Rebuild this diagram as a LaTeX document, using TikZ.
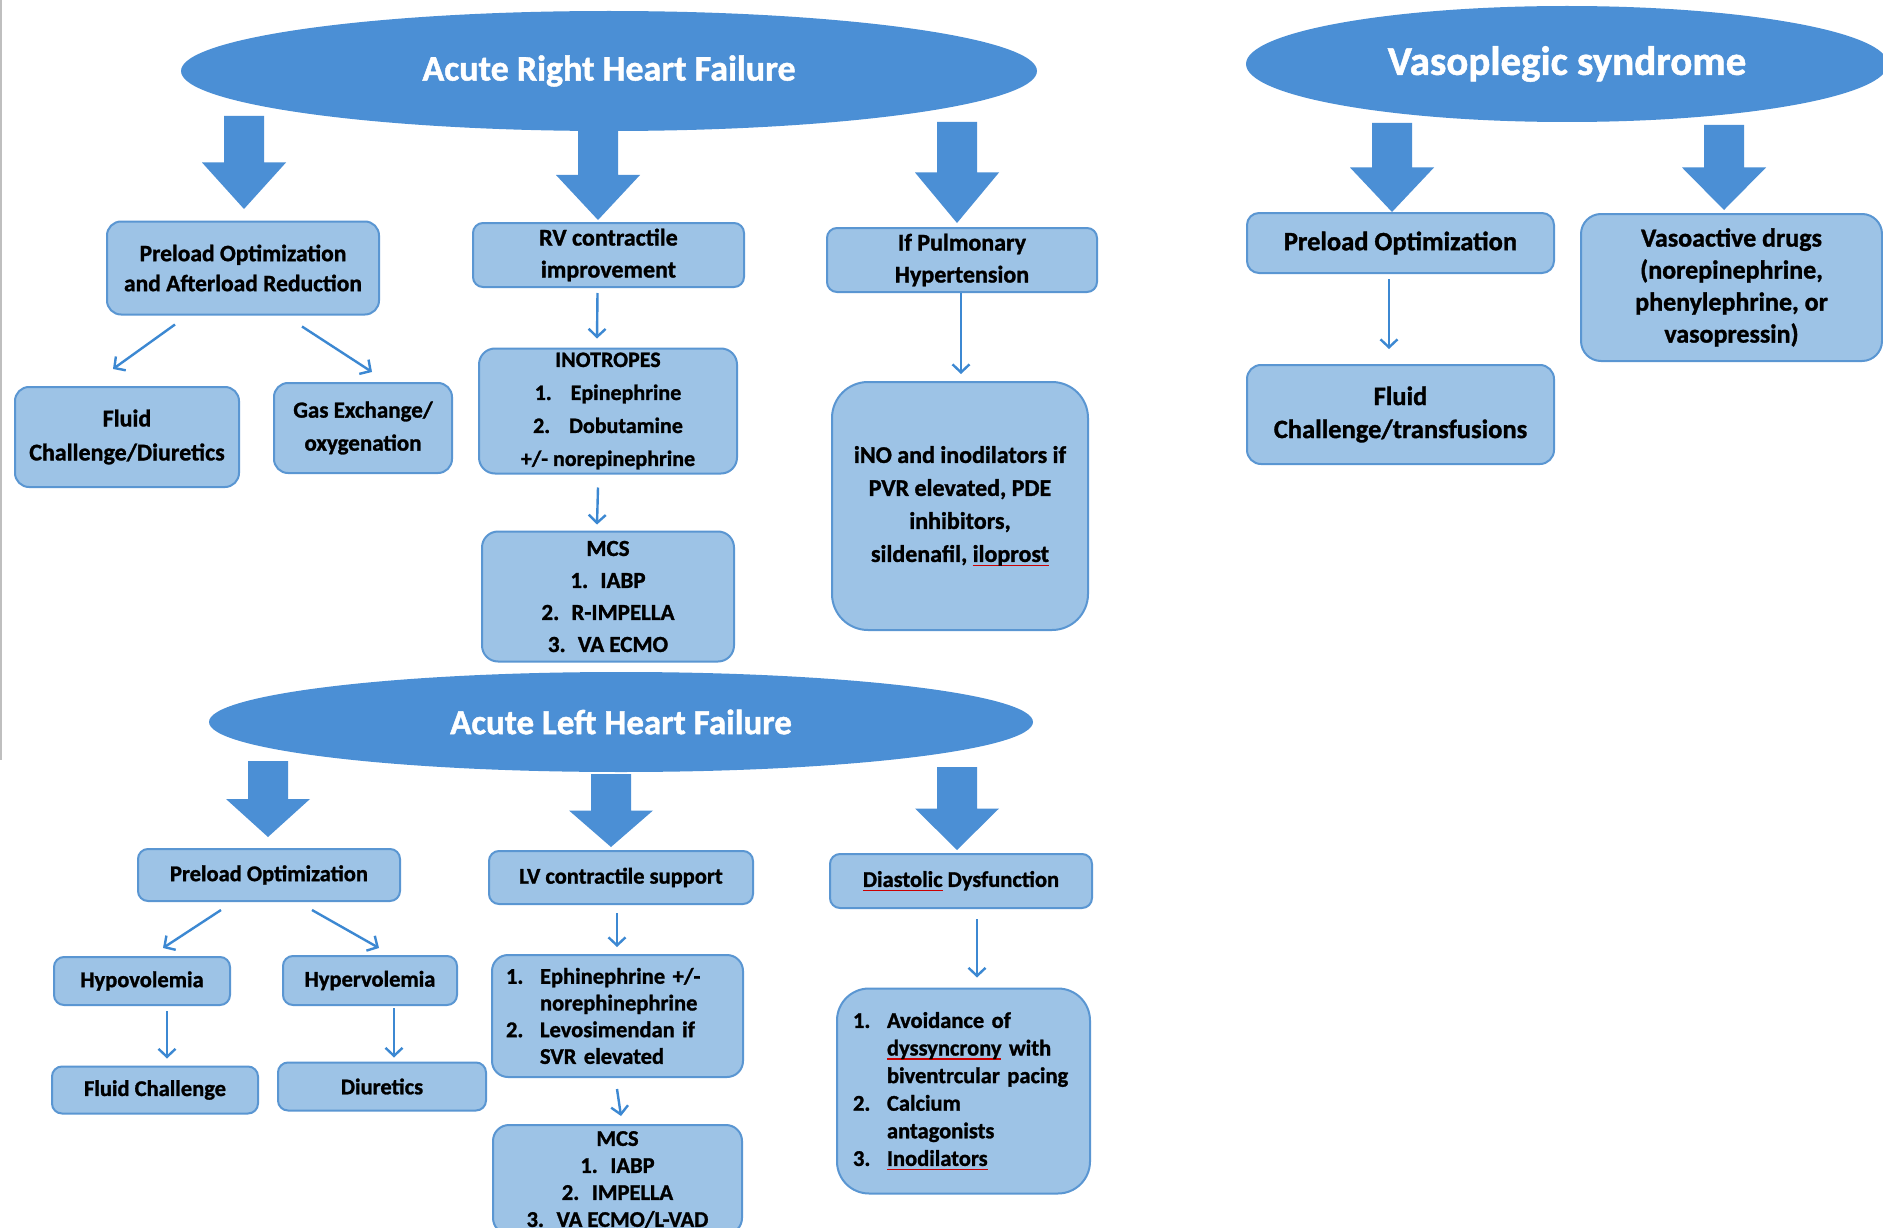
\documentclass[tikz,border=0pt]{standalone}
\usepackage{fontspec}
\setmainfont{Carlito}[BoldFeatures={FakeBold=1.2}]
\usepackage{tikz}
\usetikzlibrary{arrows.meta,shapes.geometric,positioning}
\definecolor{hfblue}{HTML}{4B8FD5}
\definecolor{boxfill}{HTML}{9DC3E6}
\definecolor{boxline}{HTML}{5A96D2}
\definecolor{arrblue}{HTML}{3C88D2}
\newcommand{\boxfs}[2]{\bfseries\fontsize{#1}{#2}\selectfont}
\newcommand{\lnum}[1]{\makebox[34pt][l]{#1}}
\newcommand{\lind}{\hspace*{34pt}}
\newsavebox{\spellbox}
\newcommand{\spellmark}[1]{\sbox{\spellbox}{#1}\rlap{\textcolor{red!80!black}{\rule[-4pt]{\wd\spellbox}{1.4pt}}}\usebox{\spellbox}}
% block arrow: centre x, top y, tip y (pixels, downwards)
\newcommand{\blockarrow}[3]{%
  \fill[hfblue] ({#1-20},{-#2}) -- ({#1+20},{-#2}) -- ({#1+20},{-(#2+#3)/2})
    -- ({#1+42},{-(#2+#3)/2}) -- (#1,{-#3}) -- ({#1-42},{-(#2+#3)/2})
    -- ({#1-20},{-(#2+#3)/2}) -- cycle;}
\tikzset{
  node_head/.style={ellipse,fill=hfblue,draw=none,inner sep=0pt,text=white,
    font=\boxfs{36}{40}},
  node_box/.style={draw=boxline,line width=2pt,fill=boxfill,rounded corners=10pt,
    inner sep=0pt,align=center,font=\boxfs{22.5}{27}},
  arr/.style={-{Straight Barb[length=8pt,width=17pt]},draw=arrblue,line width=2.4pt},
}
\begin{document}
\begin{tikzpicture}[x=1pt,y=1pt]
  \useasboundingbox (0,0) rectangle (1883,-1228);
  \fill[white] (0,0) rectangle (1883,-1228);
  \draw[black!25,line width=1.5pt] (1,0) -- (1,-760);

  % right heart
  \node[node_head,minimum width=856pt,minimum height=120pt] (rhf) at (609,-71) {Acute Right Heart Failure};
  \blockarrow{244}{116}{209}
  \blockarrow{598}{130}{220}
  \blockarrow{957}{122}{223}

  \node[node_box,rounded corners=14pt,minimum width=272pt,minimum height=93pt,font=\boxfs{23.5}{30}] (preR) at (243,-268) {Preload Optimization\\and Afterload Reduction};
  \node[node_box,minimum width=271pt,minimum height=64pt,font=\boxfs{24}{32}] (rvR) at (608.5,-255) {RV contractile\\improvement};
  \node[node_box,minimum width=270pt,minimum height=64pt,font=\boxfs{24}{32}] (phR) at (962,-260) {If Pulmonary\\Hypertension};
  \node[node_box,rounded corners=14pt,minimum width=224pt,minimum height=100pt,font=\boxfs{24}{34}] (fluidR) at (127,-437) {Fluid\\Challenge/Diuretics};
  \node[node_box,rounded corners=14pt,minimum width=178pt,minimum height=90pt,font=\boxfs{23}{33}] (gasR) at (363,-428) {Gas Exchange/\\oxygenation};
  \node[node_box,rounded corners=16pt,minimum width=258pt,minimum height=125pt,font=\boxfs{22}{33}] (inoR) at (608,-411) {INOTROPES\\\makebox[36pt][l]{1.}Epinephrine\\\makebox[36pt][l]{2.}Dobutamine\\+/- norepinephrine};
  \node[node_box,rounded corners=16pt,minimum width=252pt,minimum height=130pt,font=\boxfs{23}{32},below=56pt of inoR] (mcsR) {MCS\\\makebox[30pt][l]{1.}IABP\\\makebox[30pt][l]{2.}R-IMPELLA\\\makebox[30pt][l]{3.}VA ECMO};
  \node[node_box,rounded corners=36pt,minimum width=256pt,minimum height=248pt,font=\boxfs{24}{33}] (inoD) at (960,-506) {iNO and inodilators if\\PVR elevated, PDE\\inhibitors,\\sildenafil, \spellmark{iloprost}};

  \draw[arr] ([shift={(-68,-9)}]preR.south) -- ([shift={(-14,17)}]fluidR.north);
  \draw[arr] ([shift={(59,-11)}]preR.south) -- ([shift={(9,10)}]gasR.north);
  \draw[arr] ([shift={(-11,-5)}]rvR.south) -- ([shift={(-11,9)}]inoR.north);
  \draw[arr] ([shift={(-10,-13)}]inoR.south) -- ([shift={(-11,6)}]mcsR.north);
  \draw[arr] ([shift={(-1,0)}]phR.south) -- ([shift={(1,7)}]inoD.north);

  % vasoplegia
  \node[node_head,minimum width=642pt,minimum height=116pt,font=\boxfs{41}{44}] (vaso) at (1567,-64) {Vasoplegic syndrome};
  \blockarrow{1392}{123}{212}
  \blockarrow{1724}{125}{210}

  \node[node_box,rounded corners=12pt,minimum width=307pt,minimum height=60pt,font=\boxfs{26.5}{33}] (preV) at (1400.5,-243) {Preload Optimization};
  \node[node_box,rounded corners=14pt,minimum width=307pt,minimum height=99pt,font=\boxfs{26.5}{33},below=90pt of preV] (fluidV) {Fluid\\Challenge/transfusions};
  \node[node_box,rounded corners=20pt,minimum width=301pt,minimum height=147pt,font=\boxfs{26}{32}] (vasoD) at (1731.5,-287.5) {Vasoactive drugs\\(norepinephrine,\\phenylephrine, or\\vasopressin)};

  \draw[arr] ([shift={(-11.5,-5)}]preV.south) -- ([shift={(-11.5,15)}]fluidV.north);

  % left heart
  \node[node_head,minimum width=824pt,minimum height=100pt,font=\boxfs{35}{38}] (lhf) at (621,-722) {Acute Left Heart Failure};
  \blockarrow{268}{761}{837}
  \blockarrow{611}{774}{847}
  \blockarrow{957}{767}{850}

  \node[node_box,minimum width=262pt,minimum height=52pt] (preL) at (269,-875) {Preload Optimization};
  \node[node_box,minimum width=264pt,minimum height=53pt] (lvL) at (621,-877.5) {LV contractile support};
  \node[node_box,minimum width=262pt,minimum height=54pt] (diaL) at (961,-881) {\spellmark{Diastolic} Dysfunction};
  \node[node_box,minimum width=176pt,minimum height=48pt] (hypoL) at (142,-981) {Hypovolemia};
  \node[node_box,minimum width=174pt,minimum height=49pt] (hyperL) at (370,-980.5) {Hypervolemia};
  \node[node_box,minimum width=206pt,minimum height=47pt] (fcL) at (155,-1090) {Fluid Challenge};
  \node[node_box,minimum width=208pt,minimum height=48pt] (diuL) at (382,-1086.5) {Diuretics};
  \node[node_box,rounded corners=16pt,align=left,text width=223pt,inner xsep=14pt,minimum height=122pt,font=\boxfs{22.5}{26.7}] (ephL) at (617.5,-1016) {\lnum{1.}Ephinephrine +/-\\\lind norephinephrine\\\lnum{2.}Levosimendan if\\\lind SVR elevated};
  \node[node_box,rounded corners=16pt,minimum width=249pt,minimum height=109pt,below=46pt of ephL] (mcsL) {MCS\\\makebox[30pt][l]{1.}IABP\\\makebox[30pt][l]{2.}IMPELLA\\\makebox[30pt][l]{3.}VA ECMO/L-VAD};
  \node[node_box,rounded corners=32pt,align=left,text width=221pt,inner xsep=16pt,minimum height=205pt,font=\boxfs{22.5}{27.6}] (avoL) at (963.5,-1091) {\lnum{1.}Avoidance of\\\lind \spellmark{dyssyncrony} with\\\lind biventrcular pacing\\\lnum{2.}Calcium\\\lind antagonists\\\lnum{3.}\spellmark{Inodilators}};

  \draw[arr] ([shift={(-48,-8)}]preL.south) -- ([shift={(21,8)}]hypoL.north);
  \draw[arr] ([shift={(43,-8)}]preL.south) -- ([shift={(9,7)}]hyperL.north);
  \draw[arr] ([shift={(25,-5)}]hypoL.south) -- ([shift={(12,7)}]fcL.north);
  \draw[arr] ([shift={(24,-2)}]hyperL.south) -- ([shift={(12,4)}]diuL.north);
  \draw[arr] ([shift={(-4,-8)}]lvL.south) -- ([shift={(-0.5,7)}]ephL.north);
  \draw[arr] ([shift={(-0.5,-11)}]ephL.south) -- ([shift={(3.5,8)}]mcsL.north);
  \draw[arr] ([shift={(16,-10)}]diaL.south) -- ([shift={(13.5,10)}]avoL.north);
\end{tikzpicture}
\end{document}
